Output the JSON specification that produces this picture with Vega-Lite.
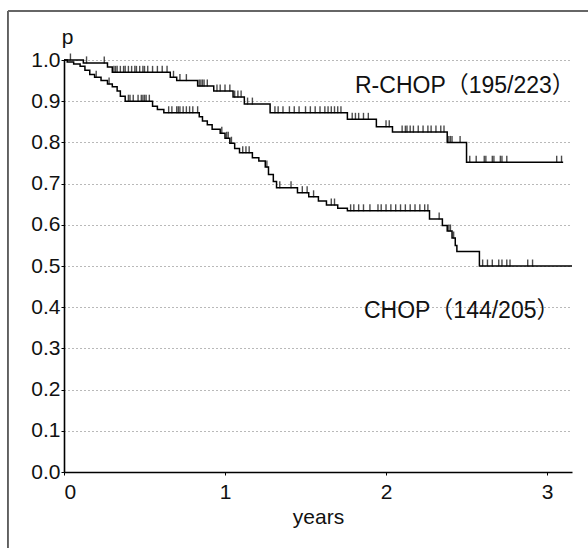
{
  "$schema": "https://vega.github.io/schema/vega-lite/v6.json",
  "width": 508,
  "height": 412,
  "autosize": {"type": "none"},
  "padding": {"left": 64, "top": 60, "right": 16, "bottom": 76},
  "background": "white",
  "config": {
    "view": {"stroke": null},
    "font": "Liberation Sans",
    "axis": {"labelFont": "Liberation Sans", "titleFont": "Liberation Sans", "labelColor": "#111", "titleColor": "#111", "titleFontWeight": "normal"}
  },
  "datasets": {
    "km": [
      {"group": "R-CHOP", "t": 0, "p": 1.0},
      {"group": "R-CHOP", "t": 0.12, "p": 0.993},
      {"group": "R-CHOP", "t": 0.27, "p": 0.983},
      {"group": "R-CHOP", "t": 0.30, "p": 0.970},
      {"group": "R-CHOP", "t": 0.66, "p": 0.958},
      {"group": "R-CHOP", "t": 0.70, "p": 0.950},
      {"group": "R-CHOP", "t": 0.83, "p": 0.937},
      {"group": "R-CHOP", "t": 0.93, "p": 0.925},
      {"group": "R-CHOP", "t": 1.05, "p": 0.910},
      {"group": "R-CHOP", "t": 1.12, "p": 0.893},
      {"group": "R-CHOP", "t": 1.28, "p": 0.872},
      {"group": "R-CHOP", "t": 1.76, "p": 0.856},
      {"group": "R-CHOP", "t": 1.94, "p": 0.838},
      {"group": "R-CHOP", "t": 2.04, "p": 0.825},
      {"group": "R-CHOP", "t": 2.38, "p": 0.800},
      {"group": "R-CHOP", "t": 2.50, "p": 0.752},
      {"group": "R-CHOP", "t": 3.10, "p": 0.752},
      {"group": "CHOP", "t": 0, "p": 1.0},
      {"group": "CHOP", "t": 0.02, "p": 0.995},
      {"group": "CHOP", "t": 0.06, "p": 0.99},
      {"group": "CHOP", "t": 0.10, "p": 0.985},
      {"group": "CHOP", "t": 0.13, "p": 0.975},
      {"group": "CHOP", "t": 0.16, "p": 0.965},
      {"group": "CHOP", "t": 0.19, "p": 0.958},
      {"group": "CHOP", "t": 0.23, "p": 0.95},
      {"group": "CHOP", "t": 0.27, "p": 0.942},
      {"group": "CHOP", "t": 0.30, "p": 0.935},
      {"group": "CHOP", "t": 0.33, "p": 0.925},
      {"group": "CHOP", "t": 0.35, "p": 0.912},
      {"group": "CHOP", "t": 0.38, "p": 0.900},
      {"group": "CHOP", "t": 0.55, "p": 0.888},
      {"group": "CHOP", "t": 0.58, "p": 0.880},
      {"group": "CHOP", "t": 0.62, "p": 0.872},
      {"group": "CHOP", "t": 0.84, "p": 0.862},
      {"group": "CHOP", "t": 0.86, "p": 0.852},
      {"group": "CHOP", "t": 0.89, "p": 0.843},
      {"group": "CHOP", "t": 0.92, "p": 0.832},
      {"group": "CHOP", "t": 0.97, "p": 0.822},
      {"group": "CHOP", "t": 1.00, "p": 0.810},
      {"group": "CHOP", "t": 1.03, "p": 0.798},
      {"group": "CHOP", "t": 1.06, "p": 0.785},
      {"group": "CHOP", "t": 1.09, "p": 0.775},
      {"group": "CHOP", "t": 1.17, "p": 0.763},
      {"group": "CHOP", "t": 1.21, "p": 0.755},
      {"group": "CHOP", "t": 1.25, "p": 0.740},
      {"group": "CHOP", "t": 1.27, "p": 0.722},
      {"group": "CHOP", "t": 1.30, "p": 0.705},
      {"group": "CHOP", "t": 1.32, "p": 0.690},
      {"group": "CHOP", "t": 1.45, "p": 0.678},
      {"group": "CHOP", "t": 1.52, "p": 0.668},
      {"group": "CHOP", "t": 1.58, "p": 0.658},
      {"group": "CHOP", "t": 1.63, "p": 0.648},
      {"group": "CHOP", "t": 1.70, "p": 0.640},
      {"group": "CHOP", "t": 1.76, "p": 0.634},
      {"group": "CHOP", "t": 2.27, "p": 0.614},
      {"group": "CHOP", "t": 2.35, "p": 0.598},
      {"group": "CHOP", "t": 2.38, "p": 0.585},
      {"group": "CHOP", "t": 2.41, "p": 0.568},
      {"group": "CHOP", "t": 2.43, "p": 0.550},
      {"group": "CHOP", "t": 2.44, "p": 0.535},
      {"group": "CHOP", "t": 2.58, "p": 0.500},
      {"group": "CHOP", "t": 3.155, "p": 0.500}
    ],
    "censor": [
      {"group": "R-CHOP", "t": 0.04, "p": 1.0},
      {"group": "R-CHOP", "t": 0.14, "p": 0.993},
      {"group": "R-CHOP", "t": 0.25, "p": 0.993},
      {"group": "R-CHOP", "t": 0.31, "p": 0.970},
      {"group": "R-CHOP", "t": 0.32, "p": 0.970},
      {"group": "R-CHOP", "t": 0.33, "p": 0.970},
      {"group": "R-CHOP", "t": 0.35, "p": 0.970},
      {"group": "R-CHOP", "t": 0.37, "p": 0.970},
      {"group": "R-CHOP", "t": 0.38, "p": 0.970},
      {"group": "R-CHOP", "t": 0.40, "p": 0.970},
      {"group": "R-CHOP", "t": 0.42, "p": 0.970},
      {"group": "R-CHOP", "t": 0.44, "p": 0.970},
      {"group": "R-CHOP", "t": 0.45, "p": 0.970},
      {"group": "R-CHOP", "t": 0.47, "p": 0.970},
      {"group": "R-CHOP", "t": 0.49, "p": 0.970},
      {"group": "R-CHOP", "t": 0.50, "p": 0.970},
      {"group": "R-CHOP", "t": 0.52, "p": 0.970},
      {"group": "R-CHOP", "t": 0.55, "p": 0.970},
      {"group": "R-CHOP", "t": 0.58, "p": 0.970},
      {"group": "R-CHOP", "t": 0.61, "p": 0.970},
      {"group": "R-CHOP", "t": 0.64, "p": 0.970},
      {"group": "R-CHOP", "t": 0.68, "p": 0.958},
      {"group": "R-CHOP", "t": 0.72, "p": 0.950},
      {"group": "R-CHOP", "t": 0.76, "p": 0.950},
      {"group": "R-CHOP", "t": 0.84, "p": 0.937},
      {"group": "R-CHOP", "t": 0.85, "p": 0.937},
      {"group": "R-CHOP", "t": 0.86, "p": 0.937},
      {"group": "R-CHOP", "t": 0.87, "p": 0.937},
      {"group": "R-CHOP", "t": 0.89, "p": 0.937},
      {"group": "R-CHOP", "t": 0.95, "p": 0.925},
      {"group": "R-CHOP", "t": 0.97, "p": 0.925},
      {"group": "R-CHOP", "t": 1.00, "p": 0.925},
      {"group": "R-CHOP", "t": 1.03, "p": 0.925},
      {"group": "R-CHOP", "t": 1.06, "p": 0.910},
      {"group": "R-CHOP", "t": 1.08, "p": 0.910},
      {"group": "R-CHOP", "t": 1.10, "p": 0.910},
      {"group": "R-CHOP", "t": 1.14, "p": 0.893},
      {"group": "R-CHOP", "t": 1.17, "p": 0.893},
      {"group": "R-CHOP", "t": 1.31, "p": 0.872},
      {"group": "R-CHOP", "t": 1.33, "p": 0.872},
      {"group": "R-CHOP", "t": 1.36, "p": 0.872},
      {"group": "R-CHOP", "t": 1.40, "p": 0.872},
      {"group": "R-CHOP", "t": 1.43, "p": 0.872},
      {"group": "R-CHOP", "t": 1.46, "p": 0.872},
      {"group": "R-CHOP", "t": 1.50, "p": 0.872},
      {"group": "R-CHOP", "t": 1.53, "p": 0.872},
      {"group": "R-CHOP", "t": 1.56, "p": 0.872},
      {"group": "R-CHOP", "t": 1.59, "p": 0.872},
      {"group": "R-CHOP", "t": 1.62, "p": 0.872},
      {"group": "R-CHOP", "t": 1.64, "p": 0.872},
      {"group": "R-CHOP", "t": 1.66, "p": 0.872},
      {"group": "R-CHOP", "t": 1.68, "p": 0.872},
      {"group": "R-CHOP", "t": 1.70, "p": 0.872},
      {"group": "R-CHOP", "t": 1.72, "p": 0.872},
      {"group": "R-CHOP", "t": 1.79, "p": 0.856},
      {"group": "R-CHOP", "t": 1.81, "p": 0.856},
      {"group": "R-CHOP", "t": 1.83, "p": 0.856},
      {"group": "R-CHOP", "t": 1.86, "p": 0.856},
      {"group": "R-CHOP", "t": 1.89, "p": 0.856},
      {"group": "R-CHOP", "t": 2.00, "p": 0.838},
      {"group": "R-CHOP", "t": 2.02, "p": 0.838},
      {"group": "R-CHOP", "t": 2.10, "p": 0.825},
      {"group": "R-CHOP", "t": 2.12, "p": 0.825},
      {"group": "R-CHOP", "t": 2.13, "p": 0.825},
      {"group": "R-CHOP", "t": 2.15, "p": 0.825},
      {"group": "R-CHOP", "t": 2.17, "p": 0.825},
      {"group": "R-CHOP", "t": 2.20, "p": 0.825},
      {"group": "R-CHOP", "t": 2.23, "p": 0.825},
      {"group": "R-CHOP", "t": 2.26, "p": 0.825},
      {"group": "R-CHOP", "t": 2.28, "p": 0.825},
      {"group": "R-CHOP", "t": 2.31, "p": 0.825},
      {"group": "R-CHOP", "t": 2.34, "p": 0.825},
      {"group": "R-CHOP", "t": 2.36, "p": 0.825},
      {"group": "R-CHOP", "t": 2.39, "p": 0.800},
      {"group": "R-CHOP", "t": 2.40, "p": 0.800},
      {"group": "R-CHOP", "t": 2.41, "p": 0.800},
      {"group": "R-CHOP", "t": 2.46, "p": 0.800},
      {"group": "R-CHOP", "t": 2.52, "p": 0.752},
      {"group": "R-CHOP", "t": 2.56, "p": 0.752},
      {"group": "R-CHOP", "t": 2.61, "p": 0.752},
      {"group": "R-CHOP", "t": 2.62, "p": 0.752},
      {"group": "R-CHOP", "t": 2.66, "p": 0.752},
      {"group": "R-CHOP", "t": 2.67, "p": 0.752},
      {"group": "R-CHOP", "t": 2.71, "p": 0.752},
      {"group": "R-CHOP", "t": 2.72, "p": 0.752},
      {"group": "R-CHOP", "t": 2.75, "p": 0.752},
      {"group": "R-CHOP", "t": 3.06, "p": 0.752},
      {"group": "R-CHOP", "t": 3.09, "p": 0.752},
      {"group": "CHOP", "t": 0.20, "p": 0.958},
      {"group": "CHOP", "t": 0.28, "p": 0.942},
      {"group": "CHOP", "t": 0.40, "p": 0.900},
      {"group": "CHOP", "t": 0.41, "p": 0.900},
      {"group": "CHOP", "t": 0.43, "p": 0.900},
      {"group": "CHOP", "t": 0.46, "p": 0.900},
      {"group": "CHOP", "t": 0.48, "p": 0.900},
      {"group": "CHOP", "t": 0.49, "p": 0.900},
      {"group": "CHOP", "t": 0.50, "p": 0.900},
      {"group": "CHOP", "t": 0.51, "p": 0.900},
      {"group": "CHOP", "t": 0.53, "p": 0.900},
      {"group": "CHOP", "t": 0.65, "p": 0.872},
      {"group": "CHOP", "t": 0.67, "p": 0.872},
      {"group": "CHOP", "t": 0.70, "p": 0.872},
      {"group": "CHOP", "t": 0.71, "p": 0.872},
      {"group": "CHOP", "t": 0.72, "p": 0.872},
      {"group": "CHOP", "t": 0.74, "p": 0.872},
      {"group": "CHOP", "t": 0.76, "p": 0.872},
      {"group": "CHOP", "t": 0.78, "p": 0.872},
      {"group": "CHOP", "t": 0.80, "p": 0.872},
      {"group": "CHOP", "t": 0.83, "p": 0.872},
      {"group": "CHOP", "t": 0.98, "p": 0.822},
      {"group": "CHOP", "t": 1.01, "p": 0.810},
      {"group": "CHOP", "t": 1.02, "p": 0.810},
      {"group": "CHOP", "t": 1.04, "p": 0.798},
      {"group": "CHOP", "t": 1.11, "p": 0.775},
      {"group": "CHOP", "t": 1.13, "p": 0.775},
      {"group": "CHOP", "t": 1.15, "p": 0.775},
      {"group": "CHOP", "t": 1.26, "p": 0.740},
      {"group": "CHOP", "t": 1.34, "p": 0.690},
      {"group": "CHOP", "t": 1.41, "p": 0.690},
      {"group": "CHOP", "t": 1.48, "p": 0.678},
      {"group": "CHOP", "t": 1.51, "p": 0.678},
      {"group": "CHOP", "t": 1.55, "p": 0.668},
      {"group": "CHOP", "t": 1.66, "p": 0.648},
      {"group": "CHOP", "t": 1.68, "p": 0.648},
      {"group": "CHOP", "t": 1.78, "p": 0.634},
      {"group": "CHOP", "t": 1.80, "p": 0.634},
      {"group": "CHOP", "t": 1.83, "p": 0.634},
      {"group": "CHOP", "t": 1.86, "p": 0.634},
      {"group": "CHOP", "t": 1.90, "p": 0.634},
      {"group": "CHOP", "t": 1.95, "p": 0.634},
      {"group": "CHOP", "t": 1.97, "p": 0.634},
      {"group": "CHOP", "t": 2.00, "p": 0.634},
      {"group": "CHOP", "t": 2.03, "p": 0.634},
      {"group": "CHOP", "t": 2.06, "p": 0.634},
      {"group": "CHOP", "t": 2.09, "p": 0.634},
      {"group": "CHOP", "t": 2.12, "p": 0.634},
      {"group": "CHOP", "t": 2.15, "p": 0.634},
      {"group": "CHOP", "t": 2.18, "p": 0.634},
      {"group": "CHOP", "t": 2.21, "p": 0.634},
      {"group": "CHOP", "t": 2.24, "p": 0.634},
      {"group": "CHOP", "t": 2.26, "p": 0.634},
      {"group": "CHOP", "t": 2.33, "p": 0.614},
      {"group": "CHOP", "t": 2.39, "p": 0.585},
      {"group": "CHOP", "t": 2.40, "p": 0.585},
      {"group": "CHOP", "t": 2.42, "p": 0.568},
      {"group": "CHOP", "t": 2.60, "p": 0.500},
      {"group": "CHOP", "t": 2.63, "p": 0.500},
      {"group": "CHOP", "t": 2.66, "p": 0.500},
      {"group": "CHOP", "t": 2.70, "p": 0.500},
      {"group": "CHOP", "t": 2.72, "p": 0.500},
      {"group": "CHOP", "t": 2.75, "p": 0.500},
      {"group": "CHOP", "t": 2.77, "p": 0.500},
      {"group": "CHOP", "t": 2.88, "p": 0.500},
      {"group": "CHOP", "t": 2.91, "p": 0.500}
    ],
    "labels": [
      {"label": "R-CHOP（195/223）", "t": 2.49, "p": 0.937},
      {"label": "CHOP（144/205）", "t": 2.47, "p": 0.39}
    ]
  },
  "layer": [
    {
      "data": {"name": "km"},
      "mark": {"type": "line", "interpolate": "step-after", "color": "black", "strokeWidth": 1.5},
      "encoding": {
        "x": {"field": "t", "type": "quantitative", "scale": {"domain": [0, 3.155], "nice": false, "zero": true},
          "axis": {"values": [0, 1, 2, 3], "format": "d", "title": "years", "grid": false, "domainColor": "black", "domainWidth": 1.6, "tickColor": "black", "tickSize": 3, "labelFontSize": 21, "labelPadding": 6, "titleFontSize": 21, "titlePadding": 4}},
        "y": {"field": "p", "type": "quantitative", "scale": {"domain": [0, 1], "nice": false},
          "axis": {"values": [0, 0.1, 0.2, 0.3, 0.4, 0.5, 0.6, 0.7, 0.8, 0.9, 1.0], "format": ".1f", "title": "p", "titleAngle": 0, "titleX": 3, "titleY": -17, "titleAlign": "center", "titleBaseline": "alphabetic", "titleFontSize": 21, "grid": true, "gridColor": "#444", "gridDash": [1, 3], "gridWidth": 1, "gridOpacity": 0.75, "domainColor": "black", "domainWidth": 1.6, "tickColor": "black", "tickSize": 3, "labelFontSize": 21, "labelPadding": 1}},
        "detail": {"field": "group", "type": "nominal"}
      }
    },
    {
      "data": {"name": "censor"},
      "mark": {"type": "tick", "orient": "vertical", "color": "black", "size": 7, "thickness": 1.4, "yOffset": -3},
      "encoding": {
        "x": {"field": "t", "type": "quantitative"},
        "y": {"field": "p", "type": "quantitative"}
      }
    },
    {
      "data": {"name": "labels"},
      "mark": {"type": "text", "font": "Liberation Sans, Noto Sans CJK JP", "fontSize": 23, "color": "#111", "align": "center", "baseline": "middle"},
      "encoding": {
        "x": {"field": "t", "type": "quantitative"},
        "y": {"field": "p", "type": "quantitative"},
        "text": {"field": "label", "type": "nominal"}
      }
    },
    {
      "data": {"values": [{}]},
      "mark": {"type": "rule", "color": "#333", "strokeWidth": 1.5, "clip": false},
      "encoding": {
        "x": {"datum": -0.348},
        "y": {"datum": 1.119},
        "y2": {"datum": -0.19}
      }
    },
    {
      "data": {"values": [{}]},
      "mark": {"type": "rule", "color": "#666", "strokeWidth": 2, "clip": false},
      "encoding": {
        "x": {"datum": -0.348},
        "x2": {"datum": 3.26},
        "y": {"datum": 1.119}
      }
    }
  ]
}
